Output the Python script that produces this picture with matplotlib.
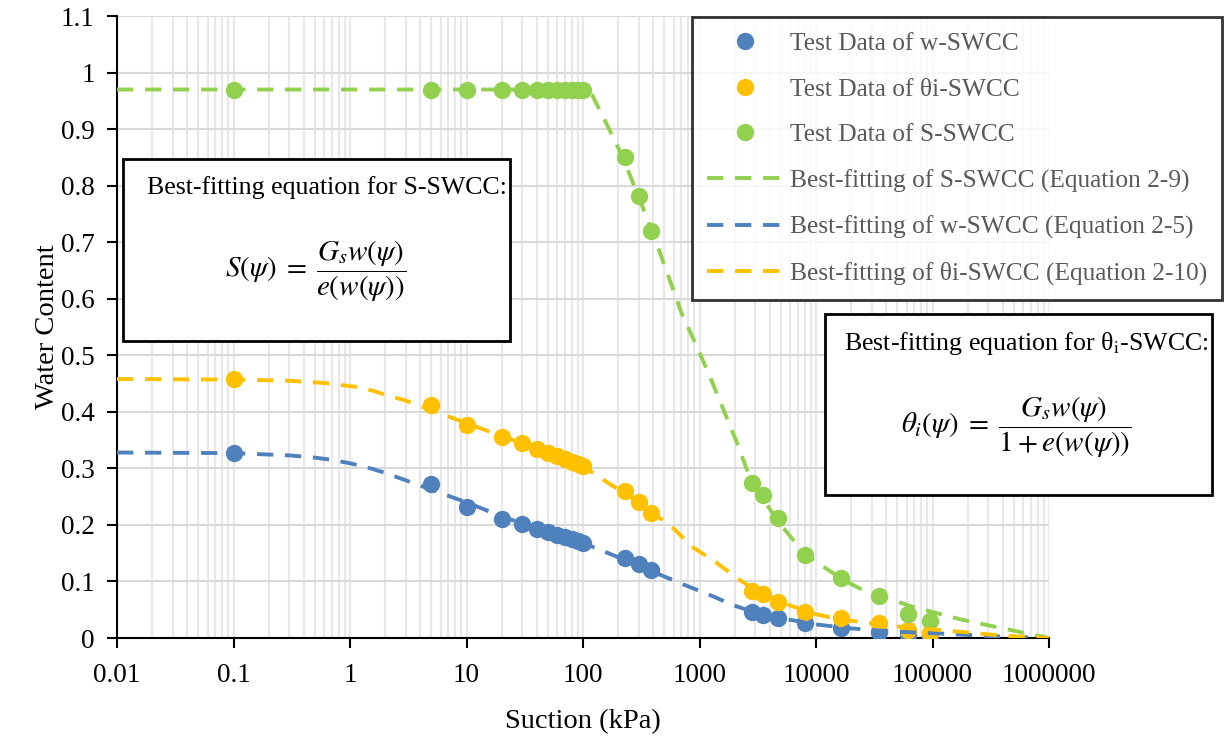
import matplotlib
matplotlib.use("Agg")
import matplotlib.pyplot as plt
from matplotlib.patches import Rectangle
from matplotlib.ticker import LogLocator, NullFormatter, FixedLocator

plt.rcParams['font.family'] = ['Liberation Serif', 'DejaVu Serif']
plt.rcParams['mathtext.fontset'] = 'stix'

# ---------------- data ----------------
suction_test = [0.1, 5, 10, 20, 30, 40, 50, 60, 70, 80, 90, 100,
                230, 300, 380, 2800, 3500, 4700, 8000, 16500, 35000, 62000, 96000]
w_test = [0.328, 0.272, 0.232, 0.21, 0.202, 0.193, 0.188, 0.183, 0.178, 0.175, 0.172, 0.168,
          0.142, 0.131, 0.121, 0.046, 0.041, 0.035, 0.027, 0.018, 0.011, 0.005, 0.002]
theta_test = [0.458, 0.412, 0.376, 0.355, 0.344, 0.334, 0.328, 0.322, 0.316, 0.311, 0.307, 0.304,
              0.26, 0.24, 0.221, 0.083, 0.078, 0.064, 0.046, 0.035, 0.027, 0.014, 0.009]
S_test = [0.97, 0.97, 0.97, 0.97, 0.97, 0.97, 0.97, 0.97, 0.97, 0.97, 0.97, 0.97,
          0.851, 0.782, 0.72, 0.274, 0.253, 0.212, 0.147, 0.106, 0.074, 0.042, 0.030]

S_fit_x = [0.01, 1, 100, 120, 150, 220, 300, 400, 700, 1000, 1300, 2100, 2800, 3500,
           4700, 8000, 16500, 24000, 35000, 68000, 174000, 380000, 1000000]
S_fit_y = [0.97, 0.97, 0.97, 0.96, 0.92, 0.85, 0.78, 0.715, 0.575, 0.505, 0.45, 0.345, 0.275,
           0.246, 0.207, 0.148, 0.105, 0.087, 0.075, 0.055, 0.033, 0.018, 0.0]

w_fit_x = [0.01, 0.1, 0.3, 0.5, 0.7, 1, 1.5, 2, 3, 5, 10, 20, 50, 100, 140, 300, 680, 1230,
           1950, 3000, 5000, 10000, 20000, 50000, 117000, 330000, 1000000]
w_fit_y = [0.328, 0.327, 0.323, 0.319, 0.315, 0.309, 0.300, 0.292, 0.279, 0.262, 0.24, 0.215,
           0.188, 0.168, 0.156, 0.128, 0.097, 0.076, 0.058, 0.045, 0.035, 0.024, 0.017, 0.011,
           0.008, 0.003, 0.0]

theta_fit_x = [0.01, 0.1, 0.3, 0.6, 1.15, 1.6, 2, 3, 3.8, 10, 20, 50, 100, 141, 300, 590, 870,
               1400, 2200, 3000, 5000, 10000, 16000, 52000, 174000, 400000, 1000000]
theta_fit_y = [0.458, 0.457, 0.455, 0.451, 0.444, 0.437, 0.43, 0.42, 0.412, 0.38, 0.357, 0.328,
               0.304, 0.283, 0.24, 0.195, 0.161, 0.133, 0.103, 0.085, 0.063, 0.042, 0.033, 0.02,
               0.011, 0.004, 0.0]

x_tick_vals = [0.01, 0.1, 1, 10, 100, 1000, 10000, 100000, 1000000]
x_tick_labels = ['0.01', '0.1', '1', '10', '100', '1000', '10000', '100000', '1000000']
y_tick_vals = [0, 0.1, 0.2, 0.3, 0.4, 0.5, 0.6, 0.7, 0.8, 0.9, 1.0, 1.1]
y_tick_labels = ['0', '0.1', '0.2', '0.3', '0.4', '0.5', '0.6', '0.7', '0.8', '0.9', '1', '1.1']

c_blue = '#4F81BD'
c_orange = '#FFC000'
c_green = '#92D050'

# ---------------- figure ----------------
fig = plt.figure(figsize=(12.25, 7.40), dpi=100)
ax = fig.add_axes([117 / 1225, 1 - 638 / 740, (1049 - 117) / 1225, (638 - 16) / 740])

ms = 12.5
lw = 2.8
dash = (0, (4.2, 3))

h1, = ax.plot(suction_test, w_test, 'o', color=c_blue, ms=ms, mec='none', zorder=3,
              label='Test Data of w-SWCC')
h2, = ax.plot(suction_test, theta_test, 'o', color=c_orange, ms=ms, mec='none', zorder=3,
              label='Test Data of θi-SWCC')
h3, = ax.plot(suction_test, S_test, 'o', color=c_green, ms=ms, mec='none', zorder=3,
              label='Test Data of S-SWCC')
h4, = ax.plot(S_fit_x, S_fit_y, color=c_green, lw=lw, ls=dash, zorder=4,
              label='Best-fitting of S-SWCC (Equation 2-9)')
h5, = ax.plot(w_fit_x, w_fit_y, color=c_blue, lw=lw, ls=dash, zorder=4,
              label='Best-fitting of w-SWCC (Equation 2-5)')
h6, = ax.plot(theta_fit_x, theta_fit_y, color=c_orange, lw=lw, ls=dash, zorder=4,
              label='Best-fitting of θi-SWCC (Equation 2-10)')

ax.set_xscale('log')
ax.set_xlim(0.01, 1000000)
ax.set_ylim(0, 1.1)
ax.xaxis.set_major_locator(FixedLocator(x_tick_vals))
ax.set_xticklabels(x_tick_labels)
ax.xaxis.set_minor_locator(LogLocator(base=10, subs=range(2, 10), numticks=100))
ax.xaxis.set_minor_formatter(NullFormatter())
ax.set_yticks(y_tick_vals)
ax.set_yticklabels(y_tick_labels)

ax.grid(True, which='major', axis='y', color='#d9d9d9', lw=1.5, zorder=0)
ax.grid(True, which='both', axis='x', color='#e8e8e8', lw=1.6, zorder=0)
ax.set_axisbelow(True)

for s in ['top', 'right']:
    ax.spines[s].set_visible(False)
for s in ['left', 'bottom']:
    ax.spines[s].set_color('black')
    ax.spines[s].set_linewidth(1.5)

ax.tick_params(axis='both', which='major', direction='out', length=7, width=1.5,
               labelsize=19.5, colors='black')
ax.tick_params(axis='x', which='minor', length=0)
ax.tick_params(axis='x', which='major', pad=11)
ax.tick_params(axis='y', which='major', pad=9)

ax.set_xlabel('Suction (kPa)', fontsize=20.5, labelpad=15)
ax.set_ylabel('Water Content', fontsize=20.5, labelpad=1)

# legend
leg = fig.legend(handles=[h1, h2, h3, h4, h5, h6], loc='upper left',
                 bbox_to_anchor=(692 / 1225, 1 - 17 / 740), frameon=True,
                 fontsize=18.3, labelspacing=0.9, handlelength=3.0, handletextpad=0.25,
                 borderpad=0.6, borderaxespad=0, fancybox=False, labelcolor='#595959')
leg.get_frame().set_edgecolor('black')
leg.get_frame().set_linewidth(2)
leg.set_zorder(10)

# equation boxes
def eq_box(x0, y0, x1, y1):
    r = Rectangle((x0 / 1225, 1 - y1 / 740), (x1 - x0) / 1225, (y1 - y0) / 740,
                  transform=fig.transFigure, facecolor='white', edgecolor='black',
                  lw=2, zorder=8)
    fig.add_artist(r)

eq_box(123, 159, 510, 341)
fig.text(327 / 1225, 1 - 188 / 740, 'Best-fitting equation for S-SWCC:', ha='center',
         va='center', fontsize=18.6, color='black', zorder=9)
fig.text(316 / 1225, 1 - 271 / 740,
         r'$S(\psi)\;=\;\dfrac{G_s w(\psi)}{e\left(w(\psi)\right)}$',
         ha='center', va='center', fontsize=21, color='black', zorder=9)

eq_box(825, 314, 1212, 495)
fig.text(1026 / 1225, 1 - 343 / 740, r'Best-fitting equation for θ$_{\mathrm{i}}$-SWCC:',
         ha='center', va='center', fontsize=18.6, color='black', zorder=9)
fig.text(1016 / 1225, 1 - 427 / 740,
         r'$\theta_i(\psi)\;=\;\dfrac{G_s w(\psi)}{1 + e\left(w(\psi)\right)}$',
         ha='center', va='center', fontsize=21, color='black', zorder=9)

fig.savefig('out.png', dpi=100)
